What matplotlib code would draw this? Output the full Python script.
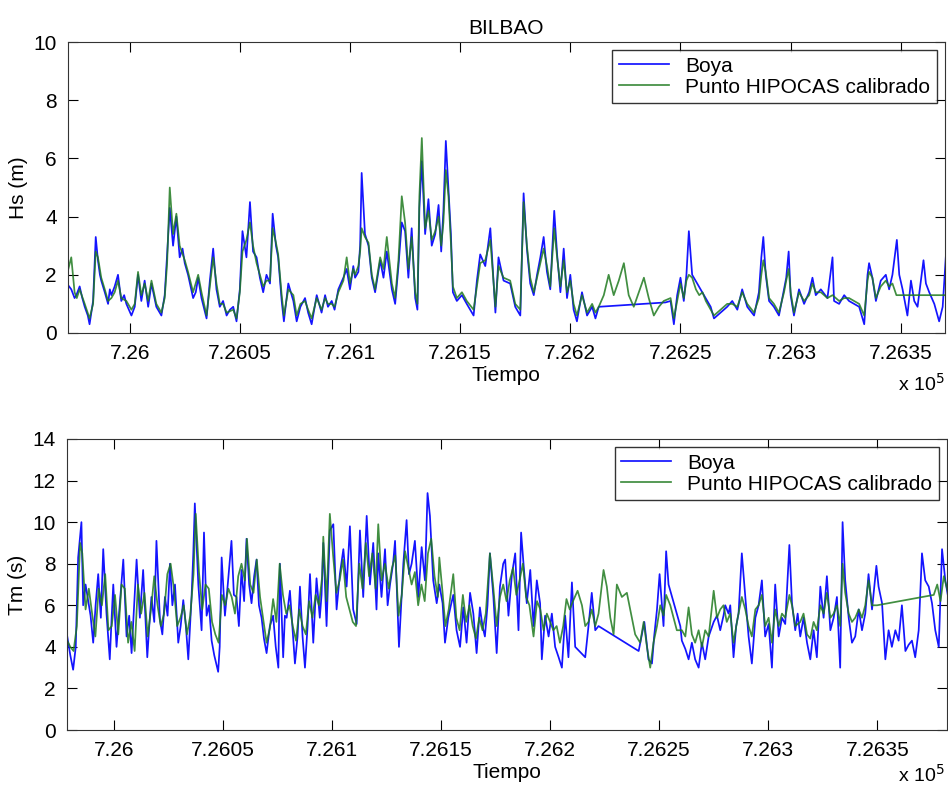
import numpy as np
import matplotlib
matplotlib.use('Agg')
import matplotlib.pyplot as plt
from matplotlib.ticker import MultipleLocator, FuncFormatter

plt.rcParams['font.family'] = ['Liberation Sans', 'DejaVu Sans']
plt.rcParams['font.size'] = 15

# Hs - days counted from 725970 (datenum)
hs_t0 = 725970
hs_boya_t = [1.5, 3.5, 5, 5.8, 7.3, 8.5, 9.6, 11, 11.8, 13.4, 14.6, 15.6, 16.5, 17.1, 18.7, 20.2, 21, 21.7, 23.2, 24.7,
             26.2, 27.5, 28.5, 30.8, 32.3, 33.8, 35.3, 36.8, 38.4, 39.9, 42.1, 44.4, 45.9, 47, 48.2, 49.7, 51.2, 52.7, 54, 55,
             56.5, 58.8, 60, 61.1, 62.6, 64.9, 66.4, 67.9, 69.4, 70.9, 72.4, 74, 75.5, 77, 78.5, 80, 81.2, 83, 84.6, 86,
             87.6, 89.1, 90.6, 92.1, 93.7, 94.9, 96.4, 97.4, 99, 100, 102, 104.3, 105.8, 107.5, 109.6, 111, 112.6, 114.9, 117.1, 118.7,
             120, 121.7, 123, 124.7, 127, 128.5, 130, 131.5, 132.3, 133.8, 134.6, 135.3, 136.8, 138.4, 139.9, 141.4, 143.7, 145.2, 146.7, 149,
             150.5, 152, 153.5, 155, 156.5, 158, 159.6, 160.6, 161.5, 162.6, 164.1, 165.6, 167.1, 168.7, 170.2, 171.4, 172.4, 173.5, 174.7, 175.8,
             176.7, 178.5, 180.8, 183, 186.1, 187.6, 189.1, 191.4, 193.7, 196, 197.4, 199.7, 202.7, 205, 207.3, 208.8, 210.3, 211.8, 213.4, 214.9,
             216.4, 217.9, 219.4, 220.9, 222.7, 224, 225.5, 227, 228.5, 230, 231.5, 233, 235.3, 237.6, 239.9, 241.4, 242.9,
             273.2, 275.5, 277, 278.5, 280, 281.5, 282.7, 283.8, 285.3,
             293.7, 295.2, 298.2, 301.2, 303.5, 305.8, 308, 310.3, 313.4, 315.6, 316.7, 317.6, 318.7, 320.2, 322.4, 324.7, 327, 328, 329.1, 330,
             331.5, 333.8, 336.1, 338.4, 339.9, 341.4, 343.7, 346.7, 349, 349.7, 352, 354.3, 356.5, 358.8, 361.1, 363.4, 364.9, 365.6, 367.1, 368.7,
             370.9, 373.2, 374.7, 376.2, 378.2, 379.3, 380.8, 383, 384.6, 386.1, 387.6, 389.1, 390.3, 391.4, 392.9, 395.2, 397.4, 399, 400.5, 402]
hs_boya = [1.7, 1.5, 1.2, 1.3, 1.6, 1.2, 0.9, 0.6, 0.3, 1.1, 3.3, 2.5, 2.0, 1.8, 1.4, 1.0, 1.5, 1.3, 1.6, 2.0,
           1.1, 1.3, 1.0, 0.6, 0.9, 2.0, 1.1, 1.8, 0.9, 1.7, 0.9, 0.6, 1.3, 2.7, 4.3, 3.0, 4.0, 2.6, 2.9, 2.4,
           2.0, 1.2, 1.4, 1.9, 1.2, 0.5, 1.8, 2.9, 1.5, 0.9, 1.1, 0.6, 0.8, 0.9, 0.4, 1.5, 3.5, 2.6, 4.5, 2.8,
           2.6, 1.9, 1.4, 2.0, 1.7, 4.1, 3.0, 2.6, 1.1, 0.4, 1.7, 1.1, 0.4, 0.9, 1.2, 0.7, 0.3, 1.3, 0.7, 1.3,
           0.9, 1.1, 0.8, 1.5, 1.9, 2.2, 1.5, 2.3, 1.9, 2.1, 3.0, 5.5, 3.4, 3.0, 1.9, 1.4, 2.5, 1.9, 2.8, 1.5,
           1.0, 2.3, 3.8, 3.5, 1.9, 3.6, 1.2, 0.8, 4.3, 5.9, 3.4, 4.6, 3.0, 3.4, 4.4, 2.8, 4.2, 6.6, 4.9, 3.4,
           1.4, 1.1, 1.3, 1.0, 0.6, 1.8, 2.7, 2.3, 3.6, 0.7, 2.6, 1.8, 1.7, 0.9, 0.6, 4.8, 2.9, 1.7, 1.3, 2.0,
           2.6, 3.3, 2.1, 1.5, 4.2, 2.7, 1.4, 2.9, 1.2, 2.0, 0.8, 0.4, 1.4, 0.6, 0.9, 0.5, 0.9,
           1.05, 1.1, 0.3, 1.3, 1.9, 1.1, 2.0, 3.5, 2.0,
           0.9, 0.5, 0.7, 0.9, 1.1, 0.8, 1.5, 0.9, 0.6, 1.4, 2.6, 3.3, 2.0, 1.1, 0.9, 0.6, 1.5, 1.9, 2.8, 1.3,
           0.6, 1.5, 1.0, 1.4, 1.9, 1.3, 1.5, 1.2, 2.6, 1.1, 1.0, 1.3, 1.1, 1.0, 0.9, 0.3, 2.0, 2.4, 1.9, 1.1,
           1.8, 2.0, 1.5, 2.0, 3.2, 2.0, 1.5, 0.6, 1.8, 1.1, 0.9, 1.8, 2.5, 1.7, 1.4, 1.0, 0.4, 0.9, 2.7, 2.0]

hs_hip_t = [1.5, 3.5, 5, 6, 7.3, 9.6, 11.8, 13.4, 14.6, 15.6, 17.1, 18.7, 20.2, 21.7, 23.2, 24.7, 26.2, 28.5, 30.8, 32.3,
            33.8, 35.3, 36.8, 38.4, 39.9, 42.1, 44.4, 45.9, 47, 48.2, 49.7, 51.2, 52.7, 55, 56.5, 58.8, 61.1, 62.6, 64.9, 66.4,
            67.9, 69.4, 70.9, 72.4, 74, 77, 78.5, 80, 81.2, 83, 84.6, 86, 87.6, 89.1, 90.6, 92.1, 93.7, 94.9, 96.4, 97.4,
            99, 100, 102, 104.3, 105.8, 107.5, 109.6, 111, 112.6, 114.9, 117.1, 118.7, 120, 121.7, 123, 124.7, 127, 128.5, 130, 131.5,
            132.3, 133.8, 134.6, 135.3, 136.8, 138.4, 139.9, 141.4, 143.7, 145.2, 146.7, 149, 150.5, 152, 153.5, 155, 156.5, 158, 159.6, 160.6,
            161.5, 162.6, 164.1, 165.6, 167.1, 168.7, 170.2, 171.4, 172.4, 173.5, 174.7, 175.8, 176.7, 178.5, 180.8, 183, 186.1, 187.6, 189.1, 191.4,
            193.7, 196, 197.4, 199.7, 202.7, 205, 207.3, 208.8, 210.3, 211.8, 213.4, 214.9, 216.4, 217.9, 219.4, 220.9, 222.7, 224, 225.5, 227,
            228.5, 230, 231.5, 233, 235.3, 237.6, 239.9, 241.4, 242.9, 245.2, 247.4, 249.7, 252, 254.3, 256.5, 258.8, 261.1, 263.4, 265.6, 267.9,
            270.2, 272.4, 275.5, 277, 278.5, 280, 281.5, 282.7, 283.8, 285.3, 287, 288.5, 290, 291.5, 293.7, 295.2, 298.2, 301.2, 303.5, 305.8,
            308, 310.3, 313.4, 315.6, 316.7, 317.6, 318.7, 320.2, 322.4, 324.7, 327, 328, 329.1, 330, 331.5, 333.8, 336.1, 338.4, 339.9, 341.4,
            343.7, 346.7, 349, 352, 354.3, 356.5, 358.8, 361.1, 363.4, 364.9, 365.6, 367.1, 368.7, 370.9, 373.2, 374.7, 376.2, 378, 401]
hs_hip = [2.0, 2.6, 1.4, 1.2, 1.5, 1.0, 0.5, 1.0, 2.8, 2.6, 1.9, 1.5, 1.1, 1.2, 1.4, 1.8, 1.2, 1.1, 0.8, 1.0,
          2.1, 1.3, 1.7, 1.1, 1.8, 1.0, 0.7, 1.2, 2.4, 5.0, 3.4, 4.1, 3.0, 2.5, 2.1, 1.4, 2.0, 1.4, 0.6, 1.6,
          2.6, 1.7, 1.0, 1.0, 0.7, 0.8, 0.5, 1.4, 2.8, 3.2, 3.8, 3.0, 2.4, 2.0, 1.6, 1.8, 1.8, 3.6, 3.1, 2.7,
          1.3, 0.6, 1.5, 1.3, 0.6, 1.0, 1.1, 0.8, 0.5, 1.2, 0.8, 1.2, 1.0, 1.0, 0.9, 1.4, 1.8, 2.6, 1.7, 2.2,
          2.0, 2.3, 2.8, 3.6, 3.3, 3.1, 2.0, 1.5, 2.6, 2.2, 3.3, 1.7, 1.2, 2.5, 4.7, 3.8, 2.2, 3.3, 1.4, 1.0,
          4.7, 6.7, 3.6, 4.2, 3.2, 3.5, 4.0, 3.0, 3.8, 5.6, 4.7, 3.1, 1.6, 1.2, 1.4, 1.1, 0.8, 1.6, 2.4, 2.5,
          3.2, 0.9, 2.3, 1.9, 1.8, 1.0, 0.8, 4.5, 3.0, 1.9, 1.4, 1.9, 2.4, 2.9, 2.3, 1.6, 3.6, 2.6, 1.6, 2.5,
          1.4, 1.8, 1.0, 0.6, 1.3, 0.7, 1.0, 0.7, 0.9, 1.3, 2.0, 1.3, 1.8, 2.4, 1.3, 0.9, 1.4, 1.9, 1.2, 0.6,
          0.9, 1.1, 1.2, 0.5, 1.1, 1.7, 1.2, 1.8, 2.0, 1.9, 1.5, 1.3, 1.4, 1.1, 0.8, 0.6, 0.8, 1.0, 1.0, 0.9,
          1.4, 1.0, 0.7, 1.2, 2.0, 2.5, 2.1, 1.2, 1.0, 0.7, 1.4, 1.8, 2.2, 1.4, 0.7, 1.4, 1.1, 1.3, 1.7, 1.4,
          1.4, 1.2, 1.3, 1.1, 1.2, 1.2, 1.1, 1.0, 0.6, 1.8, 2.1, 1.9, 1.2, 1.6, 1.8, 1.6, 1.7, 1.3, 1.3]

# Tm - days counted from 725978 (datenum)
tm_t0 = 725978
tm_boya_t = [0.6, 2, 3.3, 4.5, 5.6, 7.1, 7.9, 9, 10.2, 11.3, 12.5, 13.6, 14.8, 16, 17.1, 18.6, 20.1, 21, 21.7, 23.2,
             24.5, 26.3, 27.8, 29, 30.1, 31.3, 32.4, 33.9, 35.4, 37.3, 38.2, 39.2, 40.5, 41.5, 43.1, 44.2, 45.4, 46.6, 47.7, 48.8,
             50, 51.5, 52.6, 53.8, 55, 56.1, 57.6, 58.4, 59.1, 60.7, 62.2, 63.3, 64.5, 65.6, 66.8, 68, 69.8, 70.5, 71.4, 72.9,
             74.2, 75.9, 77, 78.2, 79.3, 80.5, 81.7, 82.8, 84, 85.1, 86.3, 87.4, 88.5, 89.7, 90.8, 92, 93.5, 95, 96.2, 97.4,
             98.1, 99.6, 100.4, 101.2, 102.7, 103.8, 105, 106.2, 107.3, 108.5, 109.6, 110.8, 111.9, 113.4, 114.9, 116.4, 117.2, 118, 119.5, 121,
             122.6, 124.1, 125.6, 127.2, 128.7, 130.2, 131.7, 133.3, 134.8, 136.3, 137.9, 139.4, 140.9, 142.4, 143.2, 144.7, 146.3, 147.5, 148.6, 150,
             150.9, 151.8, 152.7, 153.7, 154.7, 156.2, 157.3, 158.5, 160, 161.6, 163.1, 164.6, 165.8, 166.9, 168.4, 170, 171.2, 172.7, 173.8, 175.3,
             176.5, 177.6, 179.1, 180.7, 182.2, 183.7, 185.3, 186.8, 188.3, 189.8, 191, 192.1, 193.3, 194.4, 196, 197.5, 199, 200.5, 201.4, 202.9,
             204.5, 206, 207.5, 208.7, 209.8, 211.3, 212.9, 214.4, 215.9, 217.4, 218.2, 219.7, 221.3, 222.8, 224.3, 225.9, 227.4, 228.9, 230.4, 232,
             233.5, 238.1, 239.6, 241.1, 242.7, 244.2,
             262.6, 265.2, 267.1, 268.7, 269.7, 271, 272.2, 274, 275.2, 276.3,
             281.7, 282.4, 284, 285.5, 287, 288.5, 290.1, 291.6, 293.1, 294.7, 297, 298.5, 300, 301.5, 302.3, 303.8, 304.6, 306.1, 307.3, 308.4,
             309.9, 311.5, 313, 314.5, 316.1, 317.6, 319.1, 320.6, 322.2, 323.7, 325.2, 326.8, 328.3, 329.8, 331.7, 332.9, 334.4, 335.5, 336.7, 338.2,
             339.8, 341.3, 342.8, 344.3, 345.9, 347.4, 348.9, 350.5, 352, 353.5, 355, 356.1, 357.3, 358.9, 360.4, 361.9, 363.5, 365, 366.5, 368,
             369.6, 371.6, 372.6, 374.2, 375.7, 377.2, 378.7, 380.3, 381.8, 383.3, 384.9, 386.4, 387.9, 389.4, 391, 392.5, 394, 395.6, 397.1, 398.6,
             400.2, 401.7, 403.2, 404.5]
tm_boya = [4.5, 3.6, 2.9, 4.0, 8.3, 10.0, 6.0, 7.0, 6.2, 5.5, 4.2, 6.0, 7.5, 5.4, 8.7, 5.6, 3.4, 5.5, 7.0, 4.0,
           5.8, 8.2, 4.5, 5.5, 3.7, 6.0, 8.2, 5.4, 7.7, 3.5, 5.0, 6.4, 5.2, 9.1, 5.3, 4.6, 6.4, 5.5, 8.0, 6.0,
           7.0, 4.2, 5.0, 6.25, 5.0, 3.4, 6.4, 8.5, 10.9, 7.0, 4.8, 9.5, 5.5, 6.0, 4.3, 3.6, 2.8, 4.0, 8.3, 5.5,
           7.0, 9.1, 6.5, 6.4, 5.0, 7.7, 6.2, 9.2, 7.0, 6.1, 7.4, 8.2, 6.0, 5.4, 4.4, 3.7, 5.0, 5.5, 4.0, 3.0,
           8.0, 3.5, 5.5, 5.4, 6.7, 5.0, 3.2, 4.5, 6.9, 4.5, 3.0, 5.0, 7.5, 4.2, 7.3, 5.4, 6.5, 9.0, 5.0, 9.6,
           9.9, 5.8, 7.5, 8.7, 6.9, 9.8, 5.8, 5.1, 9.6, 6.4, 10.3, 7.0, 9.0, 5.8, 8.5, 6.4, 8.7, 6.0, 7.0, 8.0,
           9.1, 6.5, 4.0, 6.0, 8.0, 10.1, 7.5, 8.0, 9.1, 6.4, 8.8, 7.2, 11.4, 10.3, 7.2, 6.1, 7.0, 6.1, 4.2, 5.4,
           6.0, 6.5, 4.8, 4.0, 5.9, 4.2, 6.6, 5.6, 3.7, 5.9, 5.0, 4.5, 6.0, 8.5, 6.4, 3.7, 6.9, 8.0, 8.2, 5.5,
           7.5, 8.5, 4.8, 9.5, 8.0, 6.1, 7.7, 5.0, 7.2, 6.1, 3.4, 5.5, 4.5, 5.6, 4.0, 3.5, 3.0, 5.5, 3.5, 7.1,
           4.0, 3.5, 5.0, 6.6, 4.8, 5.0,
           3.8, 5.2, 3.4, 3.2, 4.5, 5.8, 7.5, 5.0, 8.6, 7.0,
           5.0, 4.3, 3.9, 3.4, 4.2, 3.4, 3.0, 4.2, 3.4, 4.5, 5.2, 5.5, 4.8, 5.5, 6.0, 5.6, 6.0, 3.5, 5.0, 5.6,
           8.5, 6.4, 4.5, 3.2, 5.4, 6.0, 7.2, 4.5, 5.1, 3.0, 7.0, 4.5, 5.4, 5.1, 8.9, 6.1, 4.8, 5.6, 4.5, 5.4,
           4.2, 3.4, 4.8, 3.5, 6.9, 5.4, 7.4, 4.8, 5.4, 6.4, 3.0, 10.0, 7.2, 5.4, 4.2, 4.5, 5.8, 4.8, 5.6, 7.5,
           5.8, 7.9, 6.9, 6.1, 3.4, 4.8, 4.0, 4.8, 4.3, 6.0, 3.8, 4.1, 4.3, 3.5, 4.8, 8.5, 7.2, 6.9, 6.1, 4.8,
           4.0, 8.7, 7.2, 6.4]

tm_hip_t = [0.6, 2, 3.5, 5, 6.5, 7.5, 9, 10.5, 12, 13.5, 15, 16.5, 18, 19.5, 21, 22.5, 24, 25.5, 27, 28.5,
            30, 31.5, 33, 34.5, 36, 37.5, 39, 40.5, 42, 43.5, 45, 46.5, 48, 49.5, 51, 52.5, 54, 55.5, 57, 58.5,
            59.5, 61, 62.5, 64, 65.5, 67, 68.5, 70, 71.5, 73, 74.5, 76, 77.5, 79, 80.5, 82, 83, 84.5, 86, 87.5,
            89, 90.5, 92, 93.5, 95, 96.5, 98, 99.5, 101, 102.5, 104, 105.5, 107, 108.5, 110, 111.5, 113, 114.5, 116, 117.5,
            118, 119.5, 121, 122.5, 124, 125.5, 127, 128.5, 130, 131.5, 133, 134.5, 136, 137.5, 139, 140.5, 142, 143.2, 144.7, 146.3,
            148, 149.5, 151, 152.5, 154, 155.5, 157, 158.5, 160, 161.5, 163, 164.5, 166, 167.5, 169, 170.5, 171.2, 172.7, 174, 175.5,
            177.6, 179, 180.5, 182, 183.5, 185, 186.5, 188, 189.5, 191, 192.5, 194.4, 196, 197.5, 199, 200.5, 202, 203.5, 205, 206.5,
            208, 209.5, 211, 212.5, 214.4, 216, 217.5, 219, 220.5, 222, 223.5, 225, 226.5, 228, 229.5, 231, 232.5, 234.6, 236.6, 238.1,
            239.6, 241.1, 242.7, 244.2, 246.5, 248, 249.6, 251.1, 252.6, 254.9, 257.2, 259.5, 261, 263.3, 264.9, 266.4, 267.9, 269.4, 271, 272.5,
            274, 275.2, 277.1, 278.6, 280.1, 282.4, 284, 285.5, 287, 288.5, 290.1, 291.6, 293.1, 294.7, 297, 298.5, 300, 301.5, 303, 304.6,
            306.1, 308, 309.9, 311.5, 313, 314.5, 316.1, 317.6, 319.1, 320.6, 322.2, 323.7, 325.2, 326.8, 328.3, 329.8, 331.7, 332.9, 334.4, 336.7,
            338.2, 339.8, 341.3, 342.8, 344.3, 345.9, 347.4, 348.9, 350.5, 352, 353.5, 355, 356.1, 357.3, 358.9, 360.4, 361.9, 363.5, 365, 366.5,
            368, 369.6, 371.9, 397.9, 399.5, 401, 402.5, 404.5]
tm_hip = [4.3, 4.0, 3.8, 5.0, 9.0, 8.5, 5.8, 6.8, 5.6, 4.5, 6.8, 6.0, 7.5, 4.8, 5.0, 6.5, 4.6, 7.0, 6.8, 4.2,
          5.2, 3.8, 7.0, 5.6, 6.6, 4.5, 5.8, 7.4, 6.0, 5.0, 5.6, 7.5, 8.0, 6.8, 5.0, 5.4, 6.0, 4.6, 5.5, 7.5,
          10.4, 7.6, 5.8, 7.0, 6.8, 5.2, 4.6, 4.2, 6.5, 6.0, 6.8, 6.4, 5.6, 7.4, 8.0, 7.2, 9.2, 7.0, 6.6, 8.2,
          6.4, 5.3, 4.2, 4.9, 6.3, 5.2, 8.0, 6.5, 5.6, 6.0, 5.0, 4.3, 5.8, 5.0, 4.6, 6.2, 5.4, 6.5, 6.0, 7.4,
          9.3, 6.2, 10.4, 8.4, 6.6, 7.2, 8.2, 6.4, 5.8, 5.2, 5.0, 8.0, 6.8, 9.0, 7.4, 8.5, 6.8, 9.9, 7.2, 8.0,
          6.8, 7.8, 8.4, 5.5, 6.5, 8.6, 7.8, 7.0, 7.6, 6.0, 7.0, 6.2, 8.5, 9.2, 7.4, 6.4, 8.3, 6.6, 5.0, 5.8,
          7.5, 5.4, 4.8, 6.5, 5.2, 6.0, 5.0, 4.4, 5.4, 4.8, 5.6, 8.5, 6.8, 5.0, 6.4, 7.0, 6.2, 7.2, 7.8, 6.5,
          7.2, 8.0, 6.4, 6.0, 4.5, 6.2, 5.8, 4.8, 5.6, 5.2, 4.8, 5.0, 4.2, 5.0, 6.3, 5.8, 6.2, 6.7, 6.0, 5.0,
          5.2, 5.8, 5.0, 5.6, 7.7, 6.9, 5.4, 4.6, 7.0, 6.4, 6.6, 5.4, 4.6, 4.2, 5.2, 4.0, 3.0, 4.2, 5.0, 6.0,
          5.5, 6.5, 6.0, 5.4, 4.8, 4.8, 4.5, 5.9, 4.6, 4.2, 4.8, 4.0, 4.8, 4.5, 6.7, 5.4, 5.8, 6.0, 5.2, 5.6,
          4.2, 5.4, 6.4, 5.8, 5.0, 4.5, 5.8, 6.0, 6.5, 5.0, 5.4, 4.2, 5.8, 5.0, 5.6, 5.4, 6.5, 6.0, 5.0, 5.2,
          5.6, 4.6, 4.4, 5.2, 4.8, 6.0, 5.6, 6.6, 5.4, 5.6, 6.0, 5.0, 8.0, 6.6, 5.6, 5.2, 5.4, 5.8, 5.4, 6.0,
          7.2, 6.0, 6.0, 6.5, 7.0, 6.2, 7.4, 6.6]

labels = ['Boya', 'Punto HIPOCAS calibrado']
blue = '#1414ff'
green = '#1f7a1f'

fig = plt.figure(figsize=(9.48, 7.87), dpi=100)
ax1 = fig.add_axes([0.0717, 0.5769, 0.925, 0.3697])
ax2 = fig.add_axes([0.0707, 0.0724, 0.9283, 0.3698])

# top panel: Hs
ax1.plot(hs_t0 + np.array(hs_boya_t), hs_boya, color=blue, lw=1.25, label=labels[0])
ax1.plot(hs_t0 + np.array(hs_hip_t), hs_hip, color=green, lw=1.25, alpha=0.85, label=labels[1])
ax1.set_xlim(725972, 726370)
ax1.set_ylim(0, 10)
ax1.set_yticks([0, 2, 4, 6, 8, 10])
ax1.set_ylabel('Hs (m)')
ax1.set_title('BILBAO', fontsize=15, pad=6)

# bottom panel: Tm
ax2.plot(tm_t0 + np.array(tm_boya_t), tm_boya, color=blue, lw=1.25, label=labels[0])
ax2.plot(tm_t0 + np.array(tm_hip_t), tm_hip, color=green, lw=1.25, alpha=0.85, label=labels[1])
ax2.set_xlim(725978.5, 726382)
ax2.set_ylim(0, 14)
ax2.set_yticks(np.arange(0, 15, 2))
ax2.set_ylabel('Tm (s)')

for ax in (ax1, ax2):
    ax.xaxis.set_major_locator(MultipleLocator(50))
    ax.xaxis.set_major_formatter(FuncFormatter(lambda v, p: '%g' % (v / 1e5)))
    ax.tick_params(direction='in', length=7, top=True, right=True, labelsize=15, pad=8)
    for s in ax.spines.values():
        s.set_color('#333333')
    ax.set_xlabel('Tiempo', labelpad=2)
    leg = ax.legend(loc='upper right', fancybox=False, edgecolor='black', fontsize=15,
                    handlelength=2.4, borderpad=0.3, labelspacing=0.1, borderaxespad=0.4)
    leg.get_frame().set_linewidth(1.0)

fig.text(0.972, 0.503, 'x 10$^5$', fontsize=14, ha='center')
fig.text(0.972, 0.006, 'x 10$^5$', fontsize=14, ha='center')

plt.savefig('out.png', dpi=100)
